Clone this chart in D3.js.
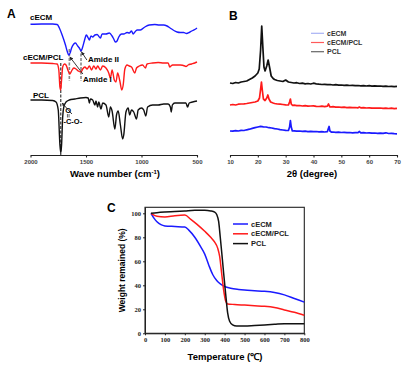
<!DOCTYPE html>
<html lang="en">
<head>
<meta charset="UTF-8">
<title>cECM, cECM/PCL and PCL: FTIR, XRD, TGA</title>
<script src="https://d3js.org/d3.v7.min.js"></script>
<style>
  body { margin: 0; background: #fff; }
  svg { display: block; font-family: "Liberation Sans", Arial, sans-serif; }
  .ax .tick text { font-weight: bold; fill: #444; font-size: 6px; }
  .ax path, .ax line { stroke: #222; stroke-width: 1.1; }
  .tga .tick text { font-family: "Liberation Serif", "Times New Roman", serif; font-weight: bold; font-size: 6.5px; fill: #222; }
  .tga path, .tga line { stroke: #222; stroke-width: 1; }
</style>
</head>
<body>
<svg id="fig" width="415" height="372"></svg>
<script>
// ---------- data ----------
const seriesNames = ["cECM", "cECM/PCL", "PCL"];

// A: FTIR, [wave number (cm-1), transmittance (a.u., offset per sample)]
const ftirCECM = [[2000,130.7],[1900,131],[1800,131],[1760,130.5],[1740,127],[1715,120],[1685,110],[1670,104],[1655,100],[1640,103],[1630,107],[1610,111],[1595,112],[1575,109],[1560,107],[1545,104],[1530,108],[1515,114],[1497,120],[1480,117],[1470,115],[1455,119],[1440,118],[1420,120],[1400,120.5],[1380,118],[1370,117],[1355,121],[1340,121],[1320,121],[1290,122],[1265,119],[1250,116],[1235,113],[1220,114],[1205,118],[1180,121],[1160,121],[1130,122.5],[1110,122],[1090,124],[1075,121],[1060,123],[1040,125],[1010,125],[970,128],[930,130],[880,130.5],[840,130],[800,130],[770,129],[742,127],[700,124],[680,123],[650,122.5],[620,122.5],[595,121.5],[570,122.5],[548,124],[520,125.5],[500,127]];
const ftirBlend = [[2000,92],[1900,92],[1800,91.5],[1760,91],[1745,85],[1735,68],[1728,65],[1720,75],[1710,88],[1695,91],[1680,90],[1660,84],[1645,81],[1630,84],[1610,87],[1590,86],[1570,84],[1545,83],[1530,86],[1510,88],[1490,86],[1470,89],[1450,85],[1430,89],[1410,86],[1395,89],[1370,85],[1350,89],[1320,87],[1295,82],[1280,77],[1265,85],[1245,75],[1230,73],[1215,82],[1195,74],[1178,65],[1165,70],[1150,86],[1130,90],[1110,89],[1090,88],[1060,82],[1045,87],[1020,89],[990,90],[965,87],[950,91],[900,92],[850,92.5],[800,92],[760,92],[745,88],[735,89],[720,90],[700,90],[650,90],[610,89],[600,88.5],[580,90],[550,91],[520,92],[500,93]];
const ftirPCL = [[2000,55],[1900,55],[1800,54.5],[1770,53],[1750,45],[1735,10],[1727,2],[1720,10],[1710,38],[1700,48],[1680,53],[1650,55],[1600,56],[1550,57],[1500,57.5],[1480,57],[1470,52],[1460,56],[1440,55],[1420,50],[1410,54],[1395,48],[1385,53],[1365,46],[1350,52],[1320,50],[1295,38],[1280,48],[1265,44],[1240,26],[1225,40],[1210,44],[1190,30],[1170,16],[1160,20],[1140,43],[1120,47],[1107,40],[1090,45],[1070,43],[1045,36],[1030,45],[1000,47],[980,45],[961,39],[945,48],[900,50],[850,50],[800,51],[760,51],[740,48],[732,43],[722,50],[700,52],[650,52],[600,52],[585,48],[570,52],[540,53],[500,54]];
const ftirTicks = [2000, 1500, 1000, 500];

// B: XRD, [2theta (degree), intensity (a.u., offset per sample)]
const xrdCECM = [[10,24],[11,23.8],[12,24.3],[13,24],[14,24.6],[15,24.5],[16,25.2],[17,25.8],[18,26.6],[19,27.4],[20,28],[21,28.6],[22,28.2],[23,28],[24,27.3],[25,27],[26,26.4],[27,26],[28,25.4],[29,25],[30,24.6],[31,24.5],[31.4,28],[31.7,34.5],[32,28],[32.4,24],[33,24.2],[34,23.8],[35,24],[36,23.6],[37,23.8],[38,23.4],[39,23.7],[40,23.3],[41,23.5],[42,23.1],[43,23.3],[44,23],[45,23.4],[45.4,27],[45.6,28.5],[45.9,24],[46.5,22.8],[47,23],[48,22.6],[49,22.8],[50,22.5],[51,22.7],[52,22.3],[53,22.5],[54,22.2],[55,22.4],[56,22.3],[56.5,23.5],[57,22.1],[58,22.3],[59,22],[60,22.2],[61,21.8],[62,22],[63,21.7],[64,21.9],[65,21.6],[66,22.2],[67,21.5],[68,21.7],[69,21.3],[70,21.2]];
const xrdBlend = [[10,50],[11,50.5],[12,50],[13,50.8],[14,51],[15,51.2],[16,51.5],[17,52],[18,52.5],[19,53],[20,54],[20.6,57],[21,66],[21.3,73],[21.6,65],[22,56],[22.6,54.5],[23.2,57],[23.6,60],[24,56],[24.6,53],[25.5,52],[26,51.5],[27,51],[28,50.8],[29,50.5],[30,50.2],[31,50],[31.4,53],[31.7,56],[32,51],[32.5,49.5],[33,49.8],[34,49.3],[35,49.5],[36,49],[37,49.3],[38,48.8],[39,49],[40,49.2],[41,48.7],[42,48.5],[43,48.8],[44,48.3],[45,48.8],[45.4,51],[45.8,48.5],[46,48],[47,48.3],[48,47.8],[49,48],[50,47.6],[51,47.8],[52,47.4],[53,47.6],[54,47.3],[55,47.5],[56,47.2],[56.5,48],[57,47.1],[58,47.3],[59,47],[60,47.2],[61,46.9],[62,47],[63,46.8],[64,47],[65,46.7],[66,46.9],[67,46.5],[68,46.8],[69,46.4],[70,46.6]];
const xrdPCL = [[10,72],[11,71.5],[12,72.5],[13,72],[14,73],[15,73.5],[16,74],[17,75.5],[18,77],[19,79],[20,82],[20.5,86],[21,105],[21.4,129],[21.8,108],[22.2,88],[22.6,84],[23.2,89],[23.7,95],[24.2,88],[24.8,79],[25.5,76.5],[26,75.5],[27,74.5],[28,74],[29,73.5],[30,75],[31,73],[32,72.5],[33,72],[34,72.3],[35,71.5],[36,71.8],[37,71.2],[38,71.5],[39,71],[40,71.8],[41,71.2],[42,70.8],[43,70.5],[44,70.7],[45,70.3],[46,70.5],[47,70],[48,70.3],[49,69.8],[50,70],[51,69.6],[52,69.8],[53,69.5],[54,69.7],[55,69.3],[56,69.5],[57,69.2],[58,69.4],[59,69],[60,69.3],[61,68.9],[62,69.1],[63,68.8],[64,69],[65,68.6],[66,68.9],[67,68.5],[68,68.7],[69,68.4],[70,68.6]];
const xrdTicks = [10, 20, 30, 40, 50, 60, 70];

// C: TGA, [temperature (C), weight remained (%)]
const tgaCECM = [[30,100],[45,96],[60,93],[80,90.5],[100,89.5],[150,89],[200,88.5],[220,86],[250,80],[280,72],[300,66],[320,57],[340,49],[360,44],[380,41],[400,39],[430,37.5],[470,36.5],[500,36],[550,35.5],[600,35],[650,34],[700,32],[750,29],[800,26]];
const tgaBlend = [[30,100],[60,97.5],[100,97],[150,98],[200,98.5],[230,95],[260,91],[300,85],[330,80],[350,76],[365,71],[375,64],[385,50],[395,36],[405,27],[415,24.5],[450,24],[500,23.5],[550,23],[600,22.5],[650,21.5],[700,19.5],[750,17.5],[800,15]];
const tgaPCL = [[30,100],[60,100.5],[100,101],[150,101.5],[200,102],[250,102.5],[300,102.5],[330,102],[350,101],[360,99],[370,93],[378,80],[385,68],[395,50],[405,33],[415,17],[425,10],[440,7],[460,6],[500,6],[550,6.5],[600,7],[650,7.5],[700,8],[750,8],[800,8]];
const tgaXTicks = [0, 100, 200, 300, 400, 500, 600, 700, 800];
const tgaYTicks = [0, 20, 40, 60, 80, 100];

// ---------- drawing ----------
const colors = ["#1a1aff", "#ff1a1a", "#111111"];
const svg = d3.select("#fig");

svg.append("defs").append("marker")
    .attr("id", "arrow")
    .attr("viewBox", "0 0 10 10")
    .attr("refX", 9).attr("refY", 5)
    .attr("markerWidth", 4).attr("markerHeight", 4)
    .attr("orient", "auto-start-reverse")
    .append("path").attr("d", "M0,0L10,5L0,10z").attr("fill", "#222");

function panelLetter(t, x, y) {
    svg.append("text").attr("x", x).attr("y", y)
        .attr("font-size", 12).attr("font-weight", "bold").text(t);
}

// ---- A: FTIR ----
const xA = d3.scaleLinear().domain([2000, 500]).range([30.5, 197]);
const yA = d3.scaleLinear().domain([0, 135]).range([155, 20]);
const lineA = d3.line().x(d => xA(d[0])).y(d => yA(d[1])).curve(d3.curveMonotoneX);

const gA = svg.append("g");

// guide lines under the curves
[1650, 1545].forEach(w => {
    gA.append("line")
        .attr("x1", xA(w)).attr("x2", xA(w))
        .attr("y1", yA(106)).attr("y2", yA(74))
        .attr("stroke", "#888").attr("stroke-width", 1.6)
        .attr("stroke-dasharray", "3,1.5");
});
gA.append("line")
    .attr("x1", xA(1727)).attr("x2", xA(1727))
    .attr("y1", yA(92)).attr("y2", yA(0))
    .attr("stroke", "#111").attr("stroke-width", 1)
    .attr("stroke-dasharray", "3,1.5");

[ftirCECM, ftirBlend, ftirPCL].forEach((s, i) => {
    gA.append("path").datum(s)
        .attr("fill", "none").attr("stroke", colors[i]).attr("stroke-width", 1.4)
        .attr("d", lineA);
});

gA.append("g").attr("class", "ax")
    .attr("transform", `translate(0,${yA(0)})`)
    .call(d3.axisBottom(xA).tickValues(ftirTicks).tickFormat(d3.format("d"))
        .tickSize(2.5).tickSizeOuter(0).tickPadding(2));

gA.append("text").attr("x", 115).attr("y", 177).attr("text-anchor", "middle")
    .attr("font-size", 9.5).attr("font-weight", "bold")
    .html('Wave number (cm<tspan dy="-3.5" font-size="6">-1</tspan><tspan dy="3.5">)</tspan>');

const labA = [[30, 19.5], [23, 60], [33, 97.5]];
seriesNames.forEach((n, i) => {
    gA.append("text").attr("x", labA[i][0]).attr("y", labA[i][1])
        .attr("font-size", 8).attr("font-weight", "bold").text(n);
});

// annotation arrows
function arrowA(w1, v1, w2, v2) {
    gA.append("line")
        .attr("x1", xA(w1)).attr("y1", yA(v1)).attr("x2", xA(w2)).attr("y2", yA(v2))
        .attr("stroke", "#222").attr("stroke-width", 0.9)
        .attr("marker-end", "url(#arrow)");
}
arrowA(1492, 95, 1540, 103);
arrowA(1528, 81, 1645, 98);
arrowA(1627, 41, 1715, 52);

gA.append("text").attr("x", xA(1483)).attr("y", yA(93))
    .attr("font-size", 8).attr("font-weight", "bold").text("Amide II");
gA.append("text").attr("x", xA(1528)).attr("y", yA(73))
    .attr("font-size", 8).attr("font-weight", "bold").text("Amide I");
gA.append("text").attr("x", xA(1703)).attr("y", yA(31))
    .attr("font-size", 7.5).attr("font-weight", "bold").text("-C-O-");
gA.append("text").attr("x", xA(1660)).attr("y", yA(42)).attr("text-anchor", "middle")
    .attr("font-size", 7.5).attr("font-weight", "bold").text("O");
[-0.8, 0.8].forEach(dx => {
    gA.append("line")
        .attr("x1", xA(1660) + dx).attr("x2", xA(1660) + dx)
        .attr("y1", yA(41)).attr("y2", yA(37.5))
        .attr("stroke", "#222").attr("stroke-width", 0.7);
});

panelLetter("A", 7, 18);

// ---- B: XRD ----
const xB = d3.scaleLinear().domain([10, 70]).range([230, 397]);
const yB = d3.scaleLinear().domain([0, 135]).range([155, 20]);
const lineB = d3.line().x(d => xB(d[0])).y(d => yB(d[1]));

const gB = svg.append("g");
[xrdCECM, xrdBlend, xrdPCL].forEach((s, i) => {
    gB.append("path").datum(s)
        .attr("fill", "none").attr("stroke", colors[i]).attr("stroke-width", 1.7)
        .attr("stroke-linejoin", "round")
        .attr("d", lineB);
});

gB.append("g").attr("class", "ax")
    .attr("transform", `translate(0,${yB(0)})`)
    .call(d3.axisBottom(xB).tickValues(xrdTicks).tickSize(2.5).tickSizeOuter(0).tickPadding(2));

gB.append("text").attr("x", 312).attr("y", 177).attr("text-anchor", "middle")
    .attr("font-size", 9.5).attr("font-weight", "bold").text("2θ (degree)");

const legBColors = ["#a8b2f4", "#ff5a5a", "#666"];
seriesNames.forEach((n, i) => {
    const y = 33.3 + i * 9.2;
    gB.append("line").attr("x1", 311).attr("x2", 324).attr("y1", y).attr("y2", y)
        .attr("stroke", legBColors[i]).attr("stroke-width", 1.2);
    gB.append("text").attr("x", 327).attr("y", y).attr("dy", "0.35em")
        .attr("font-size", 7).attr("font-weight", "bold").attr("fill", "#333").text(n);
});

panelLetter("B", 229, 20);

// ---- C: TGA ----
const xC = d3.scaleLinear().domain([0, 800]).range([145, 304.3]);
const yC = d3.scaleLinear().domain([0, 105]).range([333.3, 207.3]);
const lineC = d3.line().x(d => xC(d[0])).y(d => yC(d[1])).curve(d3.curveMonotoneX);

const gC = svg.append("g");
gC.append("rect")
    .attr("x", xC(0)).attr("y", yC(105))
    .attr("width", xC(800) - xC(0)).attr("height", yC(0) - yC(105))
    .attr("fill", "none").attr("stroke", "#222").attr("stroke-width", 1.1);

[tgaCECM, tgaBlend, tgaPCL].forEach((s, i) => {
    gC.append("path").datum(s)
        .attr("fill", "none").attr("stroke", colors[i]).attr("stroke-width", 1.5)
        .attr("d", lineC);
});

gC.append("g").attr("class", "tga")
    .attr("transform", `translate(0,${yC(0)})`)
    .call(d3.axisBottom(xC).tickValues(tgaXTicks).tickSize(2).tickSizeOuter(0).tickPadding(2));
gC.append("g").attr("class", "tga")
    .attr("transform", `translate(${xC(0)},0)`)
    .call(d3.axisLeft(yC).tickValues(tgaYTicks).tickSize(2).tickSizeOuter(0).tickPadding(2));

gC.append("text").attr("x", 225).attr("y", 360).attr("text-anchor", "middle")
    .attr("font-size", 9.5).attr("font-weight", "bold").text("Temperature (℃)");
gC.append("text")
    .attr("transform", `translate(125,${(yC(0) + yC(105)) / 2}) rotate(-90)`)
    .attr("text-anchor", "middle")
    .attr("font-size", 8.5).attr("font-weight", "bold").text("Weight remained (%)");

seriesNames.forEach((n, i) => {
    const y = 224 + i * 9.8;
    gC.append("line").attr("x1", 233).attr("x2", 248).attr("y1", y).attr("y2", y)
        .attr("stroke", colors[i]).attr("stroke-width", 1.5);
    gC.append("text").attr("x", 251).attr("y", y).attr("dy", "0.35em")
        .attr("font-size", 7.5).attr("font-weight", "bold").attr("fill", "#222").text(n);
});

panelLetter("C", 107, 212);
</script>
</body>
</html>
